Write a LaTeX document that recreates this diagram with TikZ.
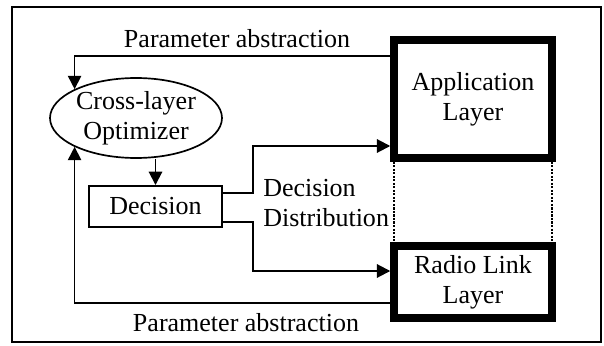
\documentclass[tikz,border=0pt]{standalone}
\usepackage{fontspec}
\setmainfont{Liberation Serif}
\usepackage{tikz}
\usetikzlibrary{arrows.meta}
\usetikzlibrary{shapes.geometric}

\begin{document}
\begin{tikzpicture}[font=\fontsize{18.5}{21.3}\selectfont,
  layerbox/.style={draw, line width=5.3pt, minimum width=3.95cm, align=center},
  arr/.style={-{Triangle[length=9.5pt,width=9.5pt]}, line width=1.4pt},
  feed/.style={-{Triangle[length=9.5pt,width=9.5pt]}, line width=1.2pt},
  sidelink/.style={densely dotted, line width=1.5pt}]
\useasboundingbox (0,0) rectangle (15.1,8.625);
% Outer frame
\draw[line width=1.8pt] (0.3,0.075) rectangle (15.025,8.45);

% Optimizer and decision
\node[ellipse, draw, line width=1.2pt, minimum width=4.3cm, minimum height=2.0cm, inner sep=0pt, align=center] (opt) at (3.4,5.675) {Cross-layer\\Optimizer};
\node[draw, line width=1.4pt, minimum width=3.325cm, minimum height=1.025cm] (dec) at (3.8875,3.4625) {Decision};

% Layers
\node[layerbox, minimum height=2.95cm] (app) at (11.825,6.15) {Application\\Layer};
\node[layerbox, minimum height=1.8cm] (radio) at (11.825,1.575) {Radio Link\\Layer};
\draw[sidelink] ([xshift=2.65pt]app.south west) -- ([xshift=2.65pt]radio.north west);
\draw[sidelink] ([xshift=-2.65pt]app.south east) -- ([xshift=-2.65pt]radio.north east);

% Parameter abstraction (feedback)
\draw[feed] (app.west |- 0,7.225) -| (opt.north west);
\draw[feed] (radio.west |- 0,1.05) -| (opt.south west);
\node at (5.925,7.65) {Parameter abstraction};
\node at (6.15,0.55) {Parameter abstraction};

% Decision distribution
\draw[arr] (opt.south -| dec.north) -- (dec.north);
\draw[arr] (dec.east |- 0,3.8) -- (6.325,3.8) |- (app.west |- 0,4.975);
\draw[arr] (dec.east |- 0,3.075) -- (6.325,3.075) |- (radio.west |- 0,1.85);
\node[anchor=west, inner sep=0pt, align=left] (dist) at (6.575,3.55) {Decision\\Distribution};

\end{tikzpicture}
\end{document}
